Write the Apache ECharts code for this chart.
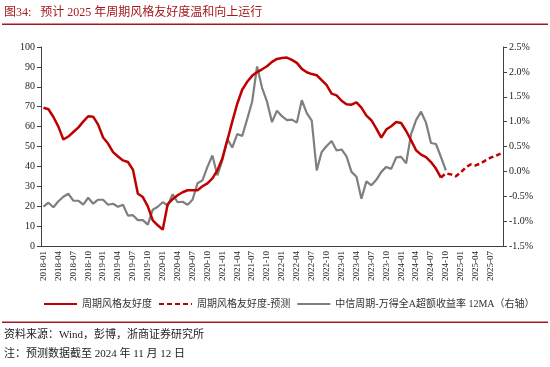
<!DOCTYPE html>
<html><head><meta charset="utf-8">
<script src="https://cdn.jsdelivr.net/npm/echarts@6/dist/echarts.min.js"></script>
<style>html,body{margin:0;padding:0;background:#fff}#c{width:550px;height:367px}</style>
</head><body><div id="c"></div>
<script>
// monthly categories 2018-01 .. 2025-09
const categories = [];
for (let y = 2018; y <= 2025; y++) for (let m = 1; m <= 12; m++) {
  if (y === 2025 && m > 9) break;
  categories.push(y + '-' + (m < 10 ? '0' + m : m));
}
// 周期风格友好度 (left axis), 2018-01 .. 2024-09
const friendly = [69.5,68.7,64.8,60,53.5,55,57.3,59.5,62.5,65.2,65,61,
  54.5,51.5,47.2,45,43,42.2,38.4,26.3,24.6,19.9,12.9,10.4,
  8.2,21,23.5,25.5,27,28,28,28,30,31.5,34,38,
  44,53,62.5,71.5,78.5,82.5,85.5,87.4,88.8,90.3,92.5,94,
  94.5,94.7,93.5,92,89,87.3,86.4,85.8,83.3,80.8,76.6,75.7,
  73,71.2,71,72.2,69.5,65.5,63.2,59,54.5,58.5,60.2,62.3,
  61.8,57.8,53.1,48.1,45.9,44.7,42.2,38.9,34.4];
// 周期风格友好度-预测, 2024-09 .. 2025-09
const forecast = [34.4,36.5,36,35,37,39.5,41,40.5,41.5,43,44.4,45.3,46.4];
// 中信周期-万得全A超额收益率 12MA (right axis, %), 2018-01 .. 2024-10
const excess = [-0.71,-0.63,-0.72,-0.60,-0.51,-0.45,-0.59,-0.59,-0.67,-0.53,-0.65,-0.57,
  -0.57,-0.67,-0.65,-0.71,-0.67,-0.89,-0.88,-0.98,-0.98,-1.07,-0.77,-0.71,
  -0.62,-0.69,-0.46,-0.62,-0.61,-0.67,-0.57,-0.24,-0.18,0.09,0.32,-0.08,
  0.22,0.65,0.48,0.75,0.71,1.05,1.40,2.11,1.68,1.40,0.99,1.22,
  1.11,1.03,1.04,0.98,1.43,1.17,1.02,0.02,0.39,0.51,0.61,0.42,
  0.44,0.30,-0.01,-0.11,-0.55,-0.20,-0.28,-0.17,-0.01,0.09,0.05,0.28,
  0.29,0.16,0.75,1.03,1.20,0.98,0.57,0.55,0.29,0.02];
const leftTicks = {min:0, max:100, interval:10};
const rightTicks = {min:-1.5, max:2.5, interval:0.5};

const forecastFull = categories.map((c,i)=> i >= friendly.length-1 ? forecast[i-(friendly.length-1)] : null);

const serif = '"Liberation Serif","Times New Roman","Noto Sans CJK SC",serif';
const RED = '#C00000', GRAY = '#7F7F7F', AX = '#404040';
const chart = echarts.init(document.getElementById('c'));
chart.setOption({
  animation:false,
  textStyle:{fontFamily:serif},
  grid:{left:41, right:47, top:47, bottom:121},
  graphic:[
    {type:'text', left:4, top:7, style:{text:'图34:   预计 2025 年周期风格友好度温和向上运行', fill:'#A5191E', font:'12px '+serif}},
    {type:'rect', shape:{x:2,y:23.5,width:546,height:1.5}, style:{fill:'#A5191E'}},
    {type:'rect', shape:{x:2,y:321.5,width:546,height:1.5}, style:{fill:'#A5191E'}},
    {type:'text', left:4, top:330, style:{text:'资料来源：Wind，彭博，浙商证券研究所', fill:'#222', font:'11px '+serif}},
    {type:'text', left:4, top:349, style:{text:'注：预测数据截至 2024 年 11 月 12 日', fill:'#222', font:'11px '+serif}}
  ],
  legend:{
    left:38, top:294, itemWidth:33, itemHeight:8, itemGap:6,
    itemStyle:{opacity:0},
    textStyle:{fontSize:10, color:'#333', fontFamily:serif},
    data:['周期风格友好度','周期风格友好度-预测','中信周期-万得全A超额收益率 12MA（右轴）']
  },
  xAxis:{
    type:'category', data:categories, boundaryGap:true,
    axisLine:{lineStyle:{color:AX}},
    axisTick:{interval:2, alignWithLabel:true, length:4, lineStyle:{color:AX}},
    axisLabel:{interval:2, rotate:90, fontSize:9, color:'#222', margin:5, fontFamily:serif}
  },
  yAxis:[
    {type:'value', min:leftTicks.min, max:leftTicks.max, interval:leftTicks.interval,
     axisLine:{show:true, lineStyle:{color:AX}}, axisTick:{show:true, length:4, lineStyle:{color:AX}},
     splitLine:{show:false}, axisLabel:{fontSize:10, color:'#222', margin:6, fontFamily:serif}},
    {type:'value', min:rightTicks.min, max:rightTicks.max, interval:rightTicks.interval,
     axisLine:{show:true, lineStyle:{color:AX}}, axisTick:{show:true, length:4, lineStyle:{color:AX}},
     splitLine:{show:false},
     axisLabel:{fontSize:10, color:'#222', margin:6, fontFamily:serif, formatter:v=>v.toFixed(1)+'%'}}
  ],
  series:[
    {name:'周期风格友好度', type:'line', data:friendly, yAxisIndex:0, symbol:'none',
     lineStyle:{color:RED, width:2.5}, itemStyle:{color:RED}, z:3},
    {name:'周期风格友好度-预测', type:'line', data:forecastFull, yAxisIndex:0, symbol:'none',
     lineStyle:{color:RED, width:2.5, type:[5,3]}, itemStyle:{color:RED}, z:3},
    {name:'中信周期-万得全A超额收益率 12MA（右轴）', type:'line', data:excess, yAxisIndex:1, symbol:'none',
     lineStyle:{color:GRAY, width:2.2}, itemStyle:{color:GRAY}, z:2}
  ]
});
</script></body></html>
